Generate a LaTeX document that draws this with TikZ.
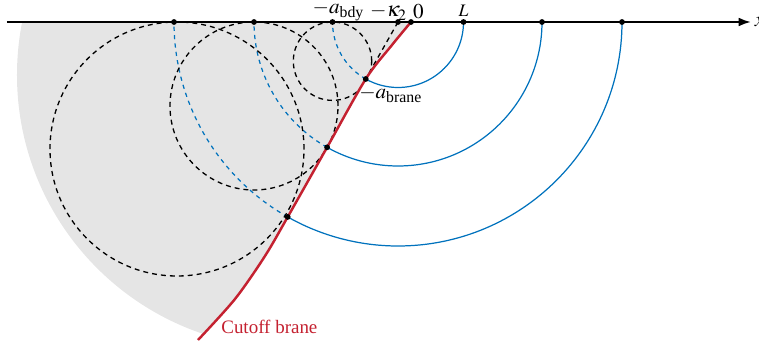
\documentclass[tikz,border=0pt]{standalone}
\usepackage{mathptmx}
\usepackage{amsmath}
\usepackage{fontspec}
\setmainfont{Liberation Serif}
\usepackage{tikz}
\usetikzlibrary{positioning,calc,arrows.meta}

\definecolor{geoblue}{RGB}{0,114,189}
\definecolor{branered}{RGB}{196,33,48}
\definecolor{shadegray}{RGB}{229,229,229}

\tikzset{
    dot/.style={circle, fill=black, inner sep=0pt, minimum size=3.3pt},
    geo/.style={geoblue, line width=0.7pt},
    geodash/.style={geoblue, line width=0.7pt, dash pattern=on 2.4pt off 2.4pt},
    horo/.style={black, line width=0.75pt, dash pattern=on 2.8pt off 2.3pt},
    brane/.style={branered, line width=1.4pt},
    branelab/.style={text=branered, inner sep=0pt, font=\fontsize{10.8}{12}\selectfont},
    every label/.style={inner sep=1pt},
}

\begin{document}
\begin{tikzpicture}[x=0.02cm, y=0.02cm]
    \useasboundingbox (-411,22) rectangle (348,-325);

    % points on the boundary
    \coordinate (o) at (0,0);
    \coordinate (k2) at (-13,0);
    \coordinate (axl) at (-404,0);
    \coordinate (axr) at (340,0);
    \coordinate (bend) at (-213,-318);

    % points on the brane
    \coordinate (p1) at ($(k2)+(240.5:65.5)$);
    \coordinate (p2) at ($(k2)+(240.5:144)$);
    \coordinate (p3) at ($(k2)+(240.5:224)$);

    % region behind the brane
    \begin{scope}
        \clip (-420,0) -- plot[smooth] coordinates {(0,0) (-19,-23) (p1) (p2) (p3) (-146,-234) (-176,-277) (bend)} -- (-213,-340) -- (-420,-340) -- cycle;
        \fill[shadegray] (-121,-53) circle (273);

        % continuation of the geodesics
        \draw[geodash] (p1) arc[start angle=240.5, end angle=180, radius=65.5];
        \draw[geodash] (p2) arc[start angle=240.5, end angle=180, radius=144];
        \draw[geodash] (p3) arc[start angle=240.5, end angle=180, radius=224];

        % circles
        \draw[horo] (-78.5,-39.2) circle (39.2);
        \draw[horo] (-157,-84) circle (84);
        \draw[horo] (-234,-127) circle (127);

        \draw[horo] (k2) -- (p3);
    \end{scope}

    % geodesics
    \draw[geo] (52.5,0) arc[start angle=0, end angle=-119.5, radius=65.5];
    \draw[geo] (131,0) arc[start angle=0, end angle=-119.5, radius=144];
    \draw[geo] (211,0) arc[start angle=0, end angle=-119.5, radius=224];

    % brane
    \draw[brane] plot[smooth] coordinates {(o) (-19,-23) (p1) (p2) (p3) (-146,-234) (-176,-277) (bend)};
    \node[branelab, right=0.46cm of bend, yshift=0.27cm, anchor=west] (cutoff) {Cutoff brane};

    % axis
    \draw[line width=1.2pt, -{Latex[length=7pt,width=5pt]}] (axl) -- (axr);
    \node[right=2pt of axr, inner sep=0pt] (xlab) {\large $x$};

    \node[dot, label={[xshift=0.12cm, label distance=-2.5pt]above:\large $-a_{\text{bdy}}$}] (abdy) at (-78.5,0) {};
    \node[dot] (a2) at (-157,0) {};
    \node[dot] (a3) at (-237,0) {};
    \node[dot, label={[xshift=-0.19cm, label distance=-2pt]above:\large $-\kappa_2$}] (kap) at (k2) {};
    \node[dot, label={[xshift=0.15cm, label distance=-1pt]above:\large $0$}] (zero) at (o) {};
    \node[dot, label={[label distance=0pt]above:$L$}] (L) at (52.5,0) {};
    \node[dot] (b2) at (131,0) {};
    \node[dot] (b3) at (211,0) {};

    \node[dot, label={[xshift=0.5cm, label distance=1pt]below:\large $-a_{\text{brane}}$}] (q1) at (p1) {};
    \node[dot] (q2) at (p2) {};
    \node[dot] (q3) at (p3) {};
\end{tikzpicture}
\end{document}
